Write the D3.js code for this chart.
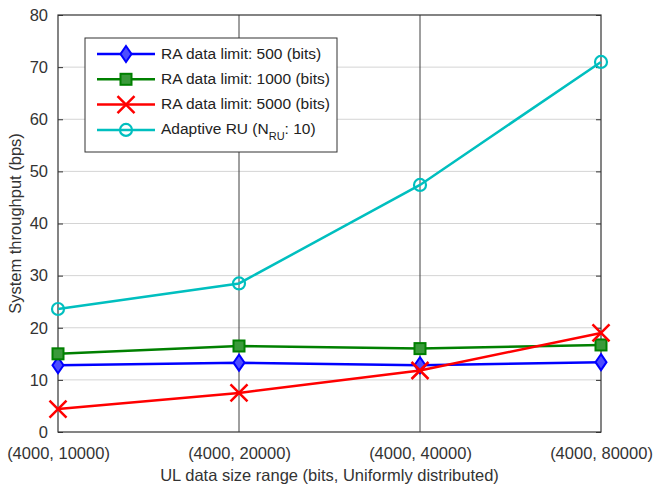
<!DOCTYPE html>
<html>
<head>
<meta charset="utf-8">
<script src="https://cdn.jsdelivr.net/npm/d3@7"></script>
<style>
  body { margin: 0; background: #fff; }
  text { font-family: "Liberation Sans", Arial, sans-serif; }
</style>
</head>
<body>
<div id="chart"></div>
<script>
const categories = ["(4000, 10000)", "(4000, 20000)", "(4000, 40000)", "(4000, 80000)"]
const ra500 = [12.8, 13.3, 12.8, 13.4]
const ra1000 = [15.0, 16.5, 16.0, 16.7]
const ra5000 = [4.4, 7.5, 11.8, 19.0]
const adaptive = [23.6, 28.5, 47.4, 71.0]
const yTicks = [0, 10, 20, 30, 40, 50, 60, 70, 80]

const w = 654
const h = 484
const mLeft = 58, mRight = 601, mTop = 15, mBottom = 432
const fs = 16.5

const series = [
  {name: "RA data limit: 500 (bits)", values: ra500, color: "#0000ff", marker: "diamond"},
  {name: "RA data limit: 1000 (bits)", values: ra1000, color: "#008000", marker: "square"},
  {name: "RA data limit: 5000 (bits)", values: ra5000, color: "#ff0000", marker: "x"},
  {name: "Adaptive RU", values: adaptive, color: "#00bfbf", marker: "circle"}
]

var svg = d3.select("#chart")
  .append("svg")
  .attr("width", w)
  .attr("height", h)

var x = d3.scalePoint().domain(categories).range([mLeft, mRight])
var y = d3.scaleLinear().domain([0, 80]).range([mBottom, mTop])

// horizontal grid
svg.append("g")
  .selectAll("line")
  .data(yTicks.slice(1, -1))
  .enter()
  .append("line")
  .attr("x1", mLeft).attr("x2", mRight)
  .attr("y1", d => y(d)).attr("y2", d => y(d))
  .attr("stroke", "#d4d4d4")
  .attr("stroke-width", 1)

// vertical grid (darker in the original)
svg.append("g")
  .selectAll("line")
  .data(categories.slice(1, -1))
  .enter()
  .append("line")
  .attr("x1", d => x(d)).attr("x2", d => x(d))
  .attr("y1", mTop).attr("y2", mBottom)
  .attr("stroke", "#404040")
  .attr("stroke-width", 1)

// axes
var yAxis = svg.append("g")
  .attr("transform", "translate(" + mLeft + ",0)")
  .call(d3.axisLeft(y).tickValues(yTicks).tickSize(-5).tickPadding(10))
yAxis.select(".domain").remove()
yAxis.selectAll("line").attr("stroke", "#333")
yAxis.selectAll("text").attr("font-size", fs).attr("fill", "#333")

var yAxisR = svg.append("g")
  .attr("transform", "translate(" + mRight + ",0)")
  .call(d3.axisRight(y).tickValues(yTicks).tickSize(-5).tickFormat(""))
yAxisR.select(".domain").remove()
yAxisR.selectAll("line").attr("stroke", "#333")

var xAxis = svg.append("g")
  .attr("transform", "translate(0," + mBottom + ")")
  .call(d3.axisBottom(x).tickSize(0).tickPadding(15))
xAxis.select(".domain").remove()
xAxis.selectAll("text").attr("font-size", fs).attr("fill", "#333")

// frame
svg.append("rect")
  .attr("x", mLeft).attr("y", mTop)
  .attr("width", mRight - mLeft).attr("height", mBottom - mTop)
  .attr("fill", "none")
  .attr("stroke", "#333")
  .attr("stroke-width", 1.2)

// axis titles
svg.append("text")
  .attr("x", (mLeft + mRight) / 2)
  .attr("y", 481)
  .attr("text-anchor", "middle")
  .attr("font-size", fs)
  .attr("fill", "#333")
  .text("UL data size range (bits, Uniformly distributed)")

svg.append("text")
  .attr("transform", "translate(21," + ((mTop + mBottom) / 2) + ") rotate(-90)")
  .attr("text-anchor", "middle")
  .attr("font-size", fs)
  .attr("fill", "#333")
  .text("System throughput (bps)")

function drawMarker(g, type, cx, cy, color){
  if(type == "diamond"){
    g.append("path")
      .attr("d", "M" + cx + "," + (cy - 8) + "L" + (cx + 5.5) + "," + cy + "L" + cx + "," + (cy + 8) + "L" + (cx - 5.5) + "," + cy + "Z")
      .attr("fill", "#4d4dff").attr("stroke", color).attr("stroke-width", 2)
  }
  if(type == "square"){
    g.append("rect")
      .attr("x", cx - 5.5).attr("y", cy - 5.5).attr("width", 11).attr("height", 11)
      .attr("fill", "#3a9a3a").attr("stroke", color).attr("stroke-width", 2)
  }
  if(type == "x"){
    g.append("path")
      .attr("d", "M" + (cx - 8.5) + "," + (cy - 8.5) + "L" + (cx + 8.5) + "," + (cy + 8.5) + "M" + (cx - 8.5) + "," + (cy + 8.5) + "L" + (cx + 8.5) + "," + (cy - 8.5))
      .attr("stroke", color).attr("stroke-width", 2.5)
  }
  if(type == "circle"){
    g.append("circle")
      .attr("cx", cx).attr("cy", cy).attr("r", 6)
      .attr("fill", "none").attr("stroke", color).attr("stroke-width", 2.2)
  }
}

var line = d3.line()
  .x((d, i) => x(categories[i]))
  .y(d => y(d))

series.forEach(function(s){
  var g = svg.append("g")
  g.append("path")
    .datum(s.values)
    .attr("d", line)
    .attr("fill", "none")
    .attr("stroke", s.color)
    .attr("stroke-width", 2.5)
  s.values.forEach(function(v, i){
    drawMarker(g, s.marker, x(categories[i]), y(v), s.color)
  })
})

// legend
var lg = svg.append("g")
lg.append("rect")
  .attr("x", 85).attr("y", 38)
  .attr("width", 252).attr("height", 114)
  .attr("fill", "#fff")
  .attr("stroke", "#333")
  .attr("stroke-width", 1)

series.forEach(function(s, i){
  var ly = 54 + i * 25.3
  lg.append("line")
    .attr("x1", 97).attr("x2", 155)
    .attr("y1", ly).attr("y2", ly)
    .attr("stroke", s.color).attr("stroke-width", 2.5)
  drawMarker(lg, s.marker, 126, ly, s.color)
  var t = lg.append("text")
    .attr("x", 161).attr("y", ly + 4.5)
    .attr("font-size", 15.5)
    .attr("fill", "#222")
  if(i < 3){
    t.text(s.name)
  } else {
    t.append("tspan").text("Adaptive RU (N")
    t.append("tspan").attr("font-size", 11).attr("dy", 6).text("RU")
    t.append("tspan").attr("dy", -6).text(": 10)")
  }
})
</script>
</body>
</html>
